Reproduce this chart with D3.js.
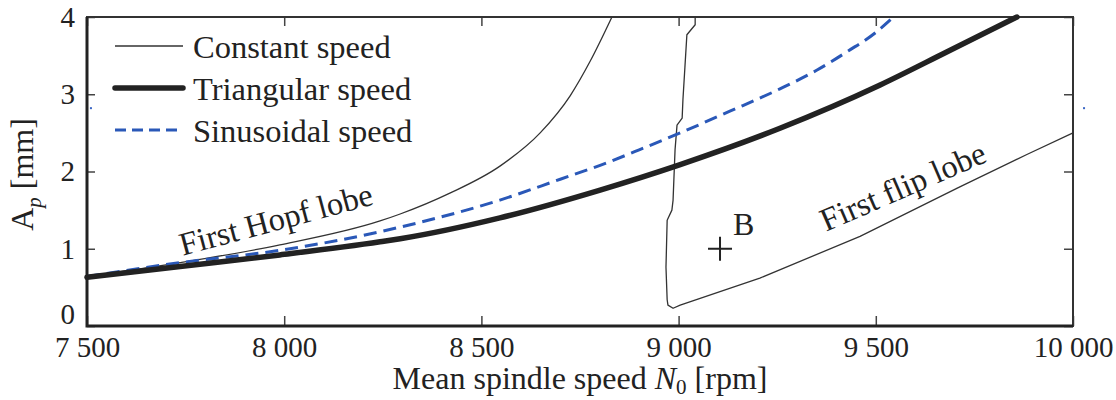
<!DOCTYPE html>
<html>
<head>
<meta charset="utf-8">
<script src="https://cdn.jsdelivr.net/npm/d3@7"></script>
<style>
  body { margin: 0; background: #fff; }
  svg text { font-family: "Liberation Serif", "Times New Roman", serif; fill: #222; }
</style>
</head>
<body>
<div id="chart"></div>
<script>
// values (rpm, mm)
var xTicks = [7500, 8000, 8500, 9000, 9500, 10000];
var yTicks = [0, 1, 2, 3, 4];

// constant speed: first Hopf lobe
var hopfRpm = [7500, 7736, 7989, 8243, 8294, 8420, 8547, 8649, 8725, 8775, 8831];
var hopfAp  = [0.64, 0.82, 1.05, 1.36, 1.45, 1.72, 2.07, 2.50, 2.98, 3.42, 4.0];

// constant speed: first flip lobe (contour, goes down then right)
var flipRpm = [9042, 9042, 9021, 9016, 9011, 9009, 8996, 8991, 8986, 8983, 8971, 8968, 8971, 8973, 8986, 9004, 9206, 9460, 9713, 9883, 10000];
var flipAp  = [4.0, 3.90, 3.77, 3.35, 2.93, 2.69, 2.60, 2.28, 1.63, 1.50, 1.37, 0.76, 0.34, 0.27, 0.23, 0.27, 0.62, 1.16, 1.80, 2.22, 2.50];

// triangular speed
var triRpm = [7500, 7736, 7989, 8243, 8294, 8547, 8801, 9004, 9257, 9511, 9681, 9858];
var triAp  = [0.63, 0.77, 0.92, 1.09, 1.13, 1.40, 1.76, 2.09, 2.56, 3.12, 3.55, 4.0];

// sinusoidal speed
var sinRpm = [7500, 7736, 7989, 8243, 8294, 8547, 8700, 8801, 8900, 9004, 9130, 9257, 9350, 9430, 9500, 9545];
var sinAp  = [0.64, 0.82, 0.98, 1.22, 1.28, 1.63, 1.90, 2.08, 2.28, 2.50, 2.78, 3.07, 3.31, 3.56, 3.80, 4.0];

// point B
var pointB = [9105, 1.0];

// stray blue specks outside the frame
var speckRpm = [7510, 10028];
var speckAp  = [2.82, 2.82];

var legendLabels = ["Constant speed", "Triangular speed", "Sinusoidal speed"];

var width = 1116, height = 400;
var margin = {top: 17, right: 43, bottom: 74, left: 87};
var innerW = width - margin.left - margin.right,
    innerH = height - margin.top - margin.bottom;
var serif = "Liberation Serif, Times New Roman, serif";

function zipPts(xs, ys) {
  return xs.map(function(v, i) { return [v, ys[i]]; });
}

var svg = d3.select("#chart")
  .append("svg")
    .attr("width", width)
    .attr("height", height);

var g = svg.append("g")
    .attr("transform", "translate(" + margin.left + "," + margin.top + ")");

var x = d3.scaleLinear().domain([7500, 10000]).range([0, innerW]);
var y = d3.scaleLinear().domain([0, 4]).range([innerH, 0]);

function fmt(v) { return d3.format(",")(v).replace(",", " "); }

// axes with inward ticks
var xAxis = g.append("g")
    .attr("transform", "translate(0," + innerH + ")")
    .call(d3.axisBottom(x).tickValues(xTicks).tickFormat(fmt).tickSize(-10).tickPadding(10));
var xTop = g.append("g")
    .call(d3.axisTop(x).tickValues(xTicks).tickFormat("").tickSize(-9));
var yAxis = g.append("g")
    .call(d3.axisLeft(y).tickValues(yTicks).tickFormat(d3.format("d")).tickSize(-8).tickPadding(12));
var yRight = g.append("g")
    .attr("transform", "translate(" + innerW + ",0)")
    .call(d3.axisRight(y).tickValues(yTicks).tickFormat("").tickSize(-9));

[xAxis, xTop, yAxis, yRight].forEach(function(a) {
  a.attr("font-family", serif).attr("font-size", 29);
  a.select(".domain").remove();
  a.selectAll(".tick line").attr("stroke", "#444").attr("stroke-width", 1.5);
  a.selectAll(".tick text").attr("fill", "#222");
});

// "0" sits above the corner
yAxis.selectAll(".tick text").filter(function(d) { return d === 0; })
  .attr("dy", "-0.1em");

// frame
g.append("rect")
    .attr("width", innerW)
    .attr("height", innerH)
    .attr("fill", "none")
    .attr("stroke", "#333")
    .attr("stroke-width", 2);
g.append("path")
    .attr("d", "M0,0V" + innerH + "H" + innerW)
    .attr("fill", "none")
    .attr("stroke", "#222")
    .attr("stroke-width", 3);

var smooth = d3.line()
    .x(function(d) { return x(d[0]); })
    .y(function(d) { return y(d[1]); })
    .curve(d3.curveMonotoneX);
var raw = d3.line()
    .x(function(d) { return x(d[0]); })
    .y(function(d) { return y(d[1]); });

// curves
g.append("path")
    .attr("d", smooth(zipPts(hopfRpm, hopfAp)))
    .attr("fill", "none").attr("stroke", "#333").attr("stroke-width", 1.3);
g.append("path")
    .attr("d", raw(zipPts(flipRpm, flipAp)))
    .attr("fill", "none").attr("stroke", "#333").attr("stroke-width", 1.3)
    .attr("stroke-linejoin", "round");
g.append("path")
    .attr("d", smooth(zipPts(sinRpm, sinAp)))
    .attr("fill", "none").attr("stroke", "#2a58b8").attr("stroke-width", 3)
    .attr("stroke-dasharray", "13,7");
g.append("path")
    .attr("d", smooth(zipPts(triRpm, triAp)))
    .attr("fill", "none").attr("stroke", "#222").attr("stroke-width", 5.5)
    .attr("stroke-linecap", "round");

// point B
var bx = x(pointB[0]), by = y(pointB[1]);
g.append("path")
    .attr("d", "M" + (bx - 12) + "," + by + "H" + (bx + 12) + "M" + bx + "," + (by - 12) + "V" + (by + 12))
    .attr("stroke", "#222").attr("stroke-width", 2);
g.append("text")
    .attr("x", bx + 13).attr("y", by - 14)
    .attr("font-size", 32)
    .text("B");

// lobe labels
g.append("text")
    .attr("transform", "translate(" + x(7743) + "," + y(0.91) + ") rotate(-15)")
    .attr("font-size", 32.5)
    .text("First Hopf lobe");
g.append("text")
    .attr("transform", "translate(" + x(9374) + "," + y(1.22) + ") rotate(-23.5)")
    .attr("font-size", 32.5)
    .text("First flip lobe");

// specks
g.selectAll(".speck")
  .data(zipPts(speckRpm, speckAp))
  .enter()
  .append("rect")
    .attr("x", function(d) { return x(d[0]) - 1; })
    .attr("y", function(d) { return y(d[1]) - 1; })
    .attr("width", 2).attr("height", 2)
    .attr("fill", "#3a66c4");

// legend
var legend = g.append("g")
    .attr("transform", "translate(28,29)");
var legendStyles = [
  {stroke: "#333", width: 1.3, dash: null},
  {stroke: "#222", width: 5.5, dash: null},
  {stroke: "#2a58b8", width: 3, dash: "11,6"}
];
legendLabels.forEach(function(lbl, i) {
  var row = legend.append("g").attr("transform", "translate(0," + (i * 42) + ")");
  row.append("line")
      .attr("x1", 0).attr("x2", 68)
      .attr("stroke", legendStyles[i].stroke)
      .attr("stroke-width", legendStyles[i].width)
      .attr("stroke-dasharray", legendStyles[i].dash)
      .attr("stroke-linecap", i === 1 ? "round" : "butt");
  row.append("text")
      .attr("x", 78).attr("y", 12)
      .attr("font-size", 32.5)
      .text(lbl);
});

// axis titles
var xl = svg.append("text")
    .attr("x", margin.left + innerW / 2)
    .attr("y", 389)
    .attr("text-anchor", "middle")
    .attr("font-size", 32);
xl.append("tspan").text("Mean spindle speed ");
xl.append("tspan").attr("font-style", "italic").text("N");
xl.append("tspan").attr("font-size", 21).attr("dy", 5).text("0");
xl.append("tspan").attr("dy", -5).text(" [rpm]");

var yl = svg.append("text")
    .attr("transform", "translate(33," + (margin.top + innerH / 2 + 3) + ") rotate(-90)")
    .attr("text-anchor", "middle")
    .attr("font-size", 32);
yl.append("tspan").text("A");
yl.append("tspan").attr("font-style", "italic").attr("font-size", 21).attr("dy", 8).text("p");
yl.append("tspan").attr("dy", -8).text(" [mm]");
</script>
</body>
</html>
